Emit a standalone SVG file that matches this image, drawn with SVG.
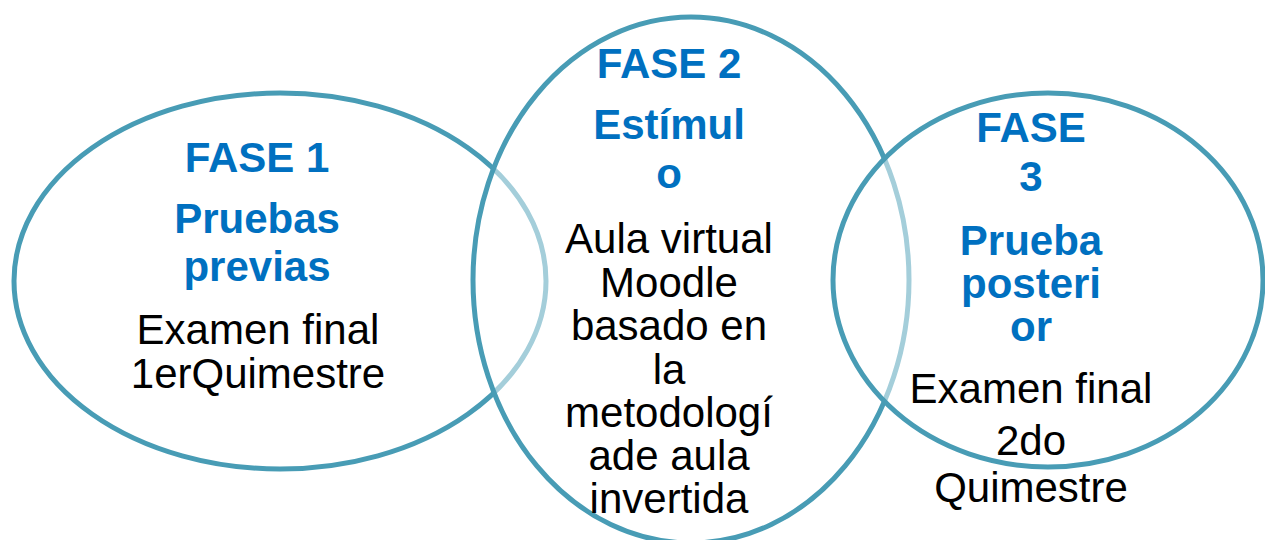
<svg xmlns="http://www.w3.org/2000/svg" width="1265" height="540" viewBox="0 0 1265 540">
<style>
.ring{fill:#ffffff;fill-opacity:0.5;stroke:#489cb5;stroke-width:5}
.h{font-family:"Liberation Sans",Arial,sans-serif;font-weight:bold;font-size:42px;fill:#0070c0;text-anchor:middle}
.t{font-family:"Liberation Sans",Arial,sans-serif;font-size:42px;fill:#000000;text-anchor:middle}
</style>
<rect width="1265" height="540" fill="#ffffff"/>
<g id="shapes">
<ellipse class="ring" cx="280" cy="281" rx="266" ry="188"/>
<ellipse class="ring" cx="691" cy="280" rx="218" ry="263"/>
<ellipse class="ring" cx="1048" cy="280" rx="215" ry="187"/>
</g>
<g id="fase1">
<text class="h" x="257" y="172">FASE 1</text>
<text class="h" x="257" y="233">Pruebas</text>
<text class="h" x="257" y="281">previas</text>
<text class="t" x="258" y="344">Examen final</text>
<text class="t" x="258" y="388">1erQuimestre</text>
</g>
<g id="fase2">
<text class="h" x="669" y="78">FASE 2</text>
<text class="h" x="669" y="139">Estímul</text>
<text class="h" x="669" y="188">o</text>
<text class="t" x="669" y="253">Aula virtual</text>
<text class="t" x="669" y="297">Moodle</text>
<text class="t" x="669" y="340">basado en</text>
<text class="t" x="669" y="384">la</text>
<text class="t" x="669" y="427">metodologí</text>
<text class="t" x="669" y="470">ade aula</text>
<text class="t" x="669" y="513">invertida</text>
</g>
<g id="fase3">
<text class="h" x="1031" y="142">FASE</text>
<text class="h" x="1031" y="191">3</text>
<text class="h" x="1031" y="255">Prueba</text>
<text class="h" x="1031" y="298">posteri</text>
<text class="h" x="1031" y="341">or</text>
<text class="t" x="1031" y="403">Examen final</text>
<text class="t" x="1031" y="455">2do</text>
<text class="t" x="1031" y="502">Quimestre</text>
</g>
<g id="connectors"/>
</svg>
